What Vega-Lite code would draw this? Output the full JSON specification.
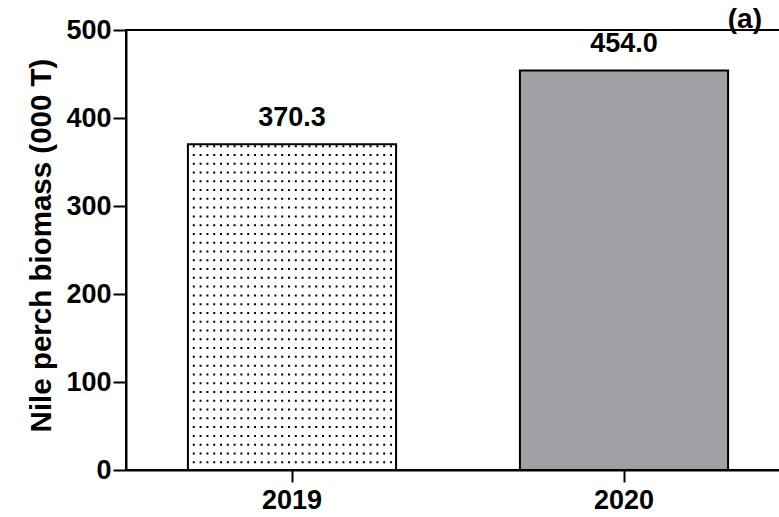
{
  "$schema": "https://vega.github.io/schema/vega-lite/v6.json",
  "width": 664,
  "height": 440,
  "autosize": {"type": "none"},
  "padding": {"left": 126, "top": 30, "right": 0, "bottom": 47},
  "background": "white",
  "config": {
    "font": "Liberation Sans",
    "view": {"stroke": "black", "strokeWidth": 2},
    "axis": {
      "domainColor": "black",
      "domainWidth": 2,
      "tickColor": "black",
      "tickWidth": 2,
      "tickSize": 12,
      "grid": false,
      "labelFont": "Liberation Sans",
      "labelFontWeight": "bold",
      "labelFontSize": 27,
      "labelColor": "black",
      "titleFont": "Liberation Sans",
      "titleFontWeight": "bold",
      "titleFontSize": 29.5,
      "titleColor": "black"
    }
  },
  "data": {
    "values": [
      {"year": "2019", "biomass": 370.3},
      {"year": "2020", "biomass": 454.0}
    ]
  },
  "encoding": {
    "x": {
      "field": "year",
      "type": "nominal",
      "scale": {"paddingInner": 0.373, "paddingOuter": 0.1865},
      "axis": {"title": null, "labelAngle": 0, "labelPadding": 5, "domain": true}
    }
  },
  "layer": [
    {
      "transform": [{"filter": "datum.year === '2020'"}],
      "mark": {"type": "bar", "fill": "#a09fa4", "stroke": "black", "strokeWidth": 2},
      "encoding": {
        "y": {
          "field": "biomass",
          "type": "quantitative",
          "scale": {"domain": [0, 500], "nice": false},
          "axis": {
            "title": "Nile perch biomass (000 T)",
            "values": [0, 100, 200, 300, 400, 500],
            "tickSize": 13,
            "labelPadding": 2,
            "titleAngle": -90,
            "titleX": -76,
            "titleY": 215,
            "titleBaseline": "alphabetic",
            "titleAlign": "center"
          }
        }
      }
    },
    {
      "transform": [{"filter": "datum.year === '2019'"}],
      "mark": {"type": "rule", "stroke": "black", "strokeWidth": 202, "strokeDash": [2, 6.78], "strokeDashOffset": -1, "strokeCap": "butt"},
      "encoding": {
        "y": {"field": "biomass", "type": "quantitative"},
        "y2": {"datum": 0}
      }
    },
    {
      "transform": [{"filter": "datum.year === '2019'"}],
      "mark": {"type": "rule", "stroke": "white", "strokeWidth": 326, "strokeDash": [4.8, 2], "strokeDashOffset": 0, "strokeCap": "butt", "xOffset": -104, "x2Offset": 104, "yOffset": 163},
      "encoding": {
        "x": {"field": "year", "type": "nominal", "bandPosition": 0.5},
        "x2": {"field": "year", "bandPosition": 0.5},
        "y": {"field": "biomass", "type": "quantitative"}
      }
    },
    {
      "transform": [{"filter": "datum.year === '2019'"}],
      "mark": {"type": "bar", "fill": "white", "fillOpacity": 0, "stroke": "black", "strokeWidth": 2},
      "encoding": {
        "y": {"field": "biomass", "type": "quantitative"}
      }
    },
    {
      "mark": {"type": "text", "dy": -18, "baseline": "alphabetic", "font": "Liberation Sans", "fontSize": 27, "fontWeight": "bold", "color": "black"},
      "encoding": {
        "y": {"field": "biomass", "type": "quantitative"},
        "text": {"field": "biomass", "type": "quantitative", "format": ".1f"}
      }
    },
    {
      "transform": [{"filter": "datum.year === '2020'"}],
      "mark": {"type": "text", "text": "(a)", "align": "right", "baseline": "alphabetic", "dx": 138, "dy": -2, "font": "Liberation Sans", "fontSize": 28, "fontWeight": "bold", "color": "black"},
      "encoding": {
        "y": {"datum": 500}
      }
    }
  ]
}
